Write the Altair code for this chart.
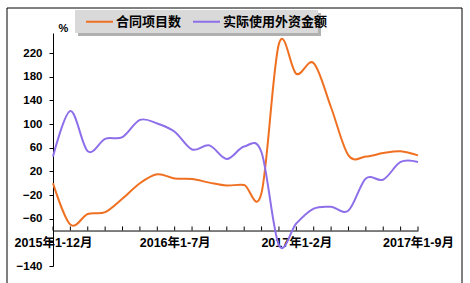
import altair as alt
import pandas as pd

categories = (
    ["2015年1-12月", "2016年1月"]
    + [f"2016年1-{m}月" for m in range(2, 13)]
    + ["2017年1月"]
    + [f"2017年1-{m}月" for m in range(2, 10)]
)
series_names = ["合同项目数", "实际使用外资金额"]
contract_projects = [0, -70, -52, -49, -26, 0, 15, 8, 7, 1, -4, -3, -16,
                     236, 185, 203, 128, 47, 45, 51, 54, 47]
actual_fdi = [45, 122, 54, 75, 78, 107, 101, 87, 57, 64, 41, 62, 52,
              -105, -68, -43, -40, -46, 8, 6, 36, 36]
label_values = [categories[0], categories[7], categories[14], categories[21]]
y_ticks = [-140, -100, -60, -20, 20, 60, 100, 140, 180, 220]

colors = ["#F07022", "#8E6FEA"]
FONT = "Liberation Sans, Noto Sans CJK SC, sans-serif"

W, H = 365, 233
Y_MIN, Y_MAX, X_CROSS = -140, 254, -80
axis_offset = -(X_CROSS - Y_MIN) / (Y_MAX - Y_MIN) * H

rows = []
for name, vals in zip(series_names, [contract_projects, actual_fdi]):
    for c, v in zip(categories, vals):
        rows.append({"月份": c, "系列": name, "值": v})
df = pd.DataFrame(rows)
cat_df = pd.DataFrame({"月份": categories})
one = pd.DataFrame({"a": [0]})

xscale = alt.Scale(type="point", padding=0, domain=categories)
yscale = alt.Scale(domain=[Y_MIN, Y_MAX], nice=False, zero=False)

xaxis = alt.Axis(values=label_values, title=None, ticks=False,
                 labelAngle=0, labelFont=FONT, labelFontSize=12.5,
                 labelFontWeight="bold", labelColor="black",
                 labelPadding=6, labelOverlap=False,
                 domainColor="black", offset=axis_offset,
                 labelFlush=False)
yaxis = alt.Axis(values=y_ticks, title="%", titleAngle=0, titleX=10,
                 titleY=-5, titleAlign="center", titleBaseline="middle",
                 titleFont=FONT, titleFontSize=11, titleFontWeight="bold",
                 labelFont=FONT, labelFontSize=11.5, labelFontWeight="bold",
                 labelColor="black", labelPadding=7, tickSize=4,
                 labelOverlap=False,
                 tickColor="black", domainColor="black", grid=False,
                 labelExpr="datum.value == -100 ? '' : datum.label")

frame = alt.Chart(one).mark_rect(filled=False, stroke="black", strokeWidth=1).encode(
    x=alt.value(-46), x2=alt.value(409), y=alt.value(-25), y2=alt.value(300))
shadow = alt.Chart(one).mark_rect(color="#9c9c9c", opacity=0.8).encode(
    x=alt.value(25), x2=alt.value(268), y=alt.value(-20), y2=alt.value(3))
legbox = alt.Chart(one).mark_rect(color="#d9d9d9").encode(
    x=alt.value(22), x2=alt.value(265), y=alt.value(-23), y2=alt.value(0))

lines = alt.Chart(df).mark_line(interpolate="cardinal", strokeWidth=2).encode(
    x=alt.X("月份:N", sort=categories, scale=xscale, axis=xaxis),
    y=alt.Y("值:Q", scale=yscale, axis=yaxis),
    color=alt.Color("系列:N", sort=series_names,
                    scale=alt.Scale(domain=series_names, range=colors),
                    legend=alt.Legend(title=None, orient="none", legendX=32,
                                      legendY=-26, direction="horizontal",
                                      symbolType="stroke", symbolSize=729,
                                      symbolStrokeWidth=2, labelFont=FONT,
                                      labelFontSize=13, labelFontWeight="bold",
                                      labelColor="black", labelOffset=2,
                                      columnPadding=7, padding=0,
                                      labelLimit=300)),
)

ticks = alt.Chart(cat_df).mark_rule(color="black", strokeWidth=1).encode(
    x=alt.X("月份:N", sort=categories, scale=xscale, axis=xaxis),
    y=alt.Y(datum=X_CROSS, scale=yscale, axis=yaxis),
    y2=alt.datum(X_CROSS + 6.8),
)

chart = alt.layer(frame, shadow, legbox, lines, ticks).properties(
    width=W, height=H,
    autosize=alt.AutoSizeParams(type="none"),
    padding={"left": 53, "top": 33, "right": 52, "bottom": 17},
    background="white",
).configure_view(stroke=None).configure_axisY(labelOverlap=False)

chart.save("out.html", embed_options={"renderer": "svg", "actions": False})
